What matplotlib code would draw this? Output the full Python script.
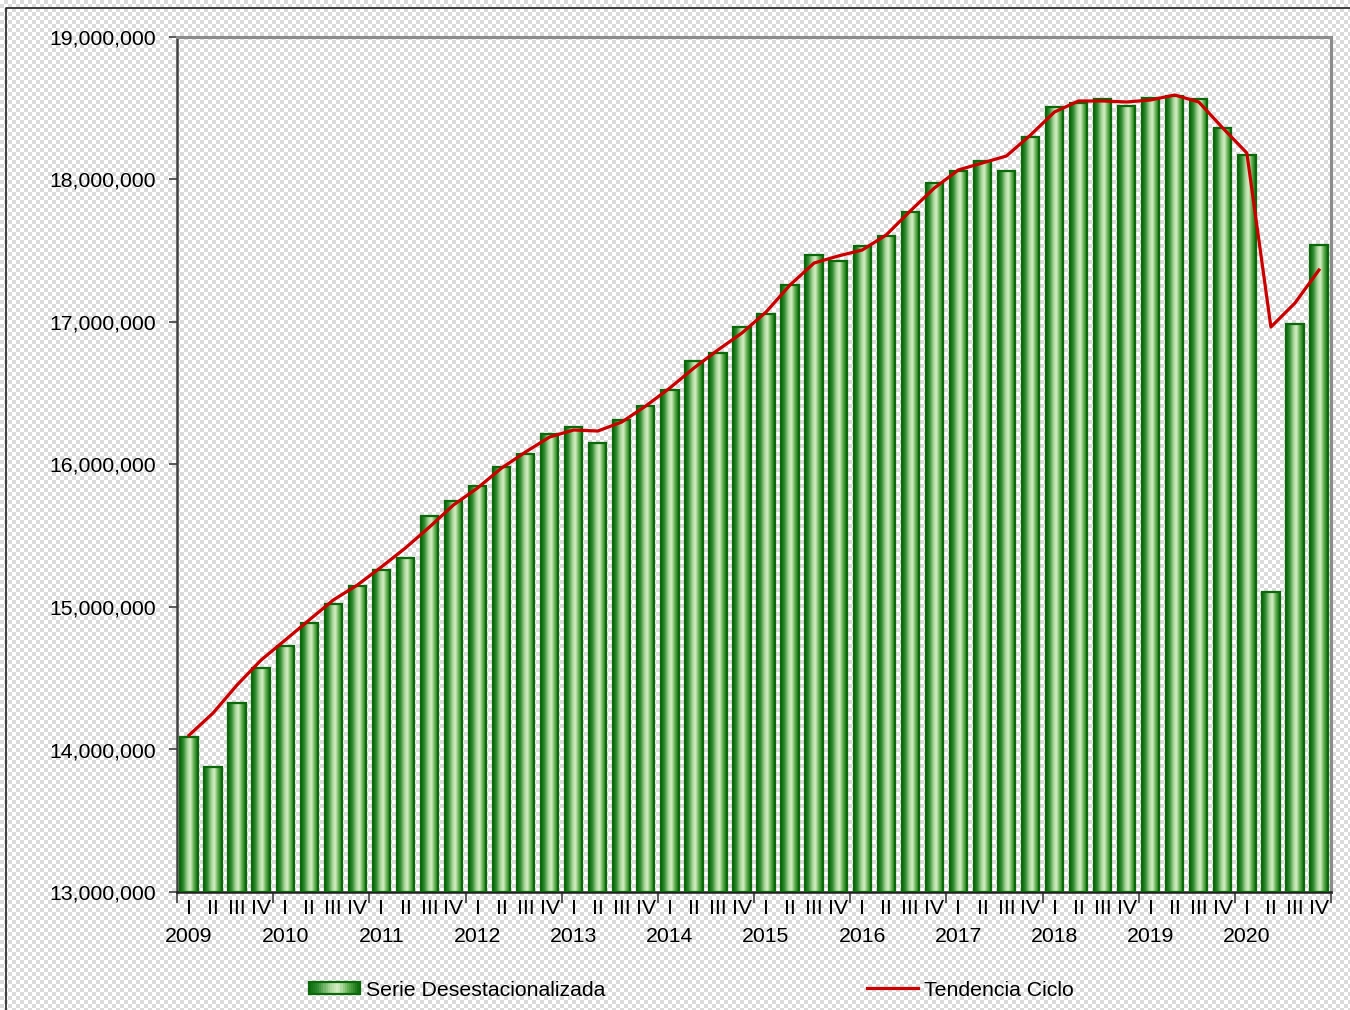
import numpy as np
import matplotlib
matplotlib.use("Agg")
import matplotlib.pyplot as plt
from matplotlib.colors import LinearSegmentedColormap
from matplotlib.legend_handler import HandlerBase
from matplotlib.patches import Rectangle
from matplotlib.lines import Line2D
import matplotlib.transforms as mtransforms
from matplotlib.ticker import FuncFormatter, FixedLocator

plt.rcParams['font.family'] = ['Liberation Sans', 'DejaVu Sans']

years = ["2009", "2010", "2011", "2012", "2013", "2014", "2015", "2016",
         "2017", "2018", "2019", "2020"]
quarters = ["I", "II", "III", "IV"]

serie = [14088000, 13877000, 14326000, 14572000,
         14726000, 14888000, 15021000, 15147000,
         15260000, 15344000, 15639000, 15744000,
         15849000, 15982000, 16074000, 16214000,
         16263000, 16151000, 16312000, 16411000,
         16523000, 16726000, 16782000, 16965000,
         17056000, 17260000, 17470000, 17428000,
         17533000, 17604000, 17772000, 17975000,
         18060000, 18130000, 18060000, 18298000,
         18509000, 18537000, 18565000, 18516000,
         18572000, 18586000, 18565000, 18361000,
         18172000, 15105000, 16986000, 17540000]

tendencia = [14100000, 14256000, 14453000, 14628000,
             14768000, 14909000, 15049000, 15154000,
             15281000, 15414000, 15561000, 15716000,
             15835000, 15975000, 16088000, 16193000,
             16242000, 16235000, 16298000, 16411000,
             16537000, 16677000, 16804000, 16923000,
             17070000, 17260000, 17414000, 17463000,
             17505000, 17611000, 17779000, 17940000,
             18067000, 18116000, 18165000, 18312000,
             18474000, 18551000, 18551000, 18544000,
             18558000, 18593000, 18544000, 18361000,
             18186000, 16965000, 17133000, 17365000]

ymin, ymax = 13000000, 19000000
yticks = [13000000, 14000000, 15000000, 16000000, 17000000, 18000000, 19000000]

W, H, DPI = 1350, 1010, 100
fig = plt.figure(figsize=(W / DPI, H / DPI), dpi=DPI)

# checker background
sq = 4
yy, xx = np.mgrid[0:H, 0:W]
chk = ((xx // sq + yy // sq) % 2).astype(float)
bg = np.where(chk[..., None] > 0, np.array([0.86, 0.86, 0.86]), np.array([1.0, 1.0, 1.0]))
fig.figimage(bg, xo=0, yo=0, origin='upper', zorder=-10)

# outer frame
fig.add_artist(Line2D([6 / W, 6 / W, 1.0], [0.0, 1 - 8 / H, 1 - 8 / H],
                      transform=fig.transFigure, color='#222222', lw=1.2))

ax = fig.add_axes([177 / W, 1 - 892 / H, (1331 - 177) / W, (892 - 37) / H])
ax.set_facecolor('none')

n = len(serie)
x = np.arange(n)
bw = 0.72

bars = ax.bar(x, np.array(serie) - ymin, bottom=ymin, width=bw,
              facecolor='none', edgecolor='#0a6a0a', linewidth=1.6, zorder=3)

cmap = LinearSegmentedColormap.from_list(
    'cyl', [(0.0, '#0b6b0b'), (0.18, '#2f8a2f'), (0.42, '#a9d79a'),
            (0.58, '#d6efc6'), (0.78, '#5fae4f'), (1.0, '#0b6b0b')])
grad = np.linspace(0, 1, 64).reshape(1, -1)
for b in bars:
    x0, y0 = b.get_x(), b.get_y()
    w, h = b.get_width(), b.get_height()
    ax.imshow(grad, cmap=cmap, aspect='auto', extent=(x0, x0 + w, y0, y0 + h),
              zorder=2, interpolation='bilinear')

ax.plot(x, tendencia, color='#cc0000', lw=2.3, zorder=4)

ax.set_xlim(-0.5, n - 0.5)
ax.set_ylim(ymin, ymax)

ax.set_yticks(yticks)
ax.yaxis.set_major_formatter(FuncFormatter(lambda v, p: f"{int(v):,}"))
ax.tick_params(axis='y', direction='out', length=6, width=1.2, color='#404040',
               labelsize=15.3, pad=9)

# x axis: year boundaries as major ticks, quarters as minor labels
ax.xaxis.set_major_locator(FixedLocator(np.arange(-0.5, n, 4)))
ax.xaxis.set_major_formatter(FuncFormatter(lambda v, p: ""))
ax.xaxis.set_minor_locator(FixedLocator(x))
ax.set_xticklabels([quarters[i % 4] for i in range(n)], minor=True)
ax.tick_params(axis='x', which='major', direction='out', length=8, width=1.2, color='#404040')
ax.tick_params(axis='x', which='minor', length=0, labelsize=15.3, pad=5)

trans = mtransforms.blended_transform_factory(ax.transData, ax.transAxes)
for i, yr in enumerate(years):
    ax.text(x[i * 4], -0.041, yr, transform=trans, ha='center', va='top', fontsize=15.3)

for side in ['top', 'right']:
    ax.spines[side].set_color('#8c8c8c')
    ax.spines[side].set_linewidth(2.2)
ax.spines['left'].set_color('#404040')
ax.spines['left'].set_linewidth(1.8)
ax.spines['bottom'].set_color('#202020')
ax.spines['bottom'].set_linewidth(1.8)


class HandlerGradient(HandlerBase):
    def create_artists(self, legend, orig_handle, xdescent, ydescent, width, height,
                       fontsize, trans):
        arts = []
        k = 24
        hh = height * 0.75
        y0 = -ydescent + (height - hh) / 2
        for j in range(k):
            c = cmap((j + 0.5) / k)
            r = Rectangle((-xdescent + width * j / k, y0), width / k + 0.3, hh,
                          facecolor=c, edgecolor='none', transform=trans)
            arts.append(r)
        arts.append(Rectangle((-xdescent, y0), width, hh, facecolor='none',
                              edgecolor='#0a6a0a', lw=1.6, transform=trans))
        return arts


bar_handle = Rectangle((0, 0), 1, 1)
line_handle = Line2D([0], [0], color='#cc0000', lw=2.3)
fig.legend([bar_handle, line_handle], ["Serie Desestacionalizada", "Tendencia Ciclo"],
           handler_map={Rectangle: HandlerGradient()},
           loc='center', bbox_to_anchor=(0.512, 1 - 990 / H), ncol=2, frameon=False,
           fontsize=15.3, handlelength=2.4, handletextpad=0.3, columnspacing=12.3)

fig.savefig("out.png", dpi=DPI)
